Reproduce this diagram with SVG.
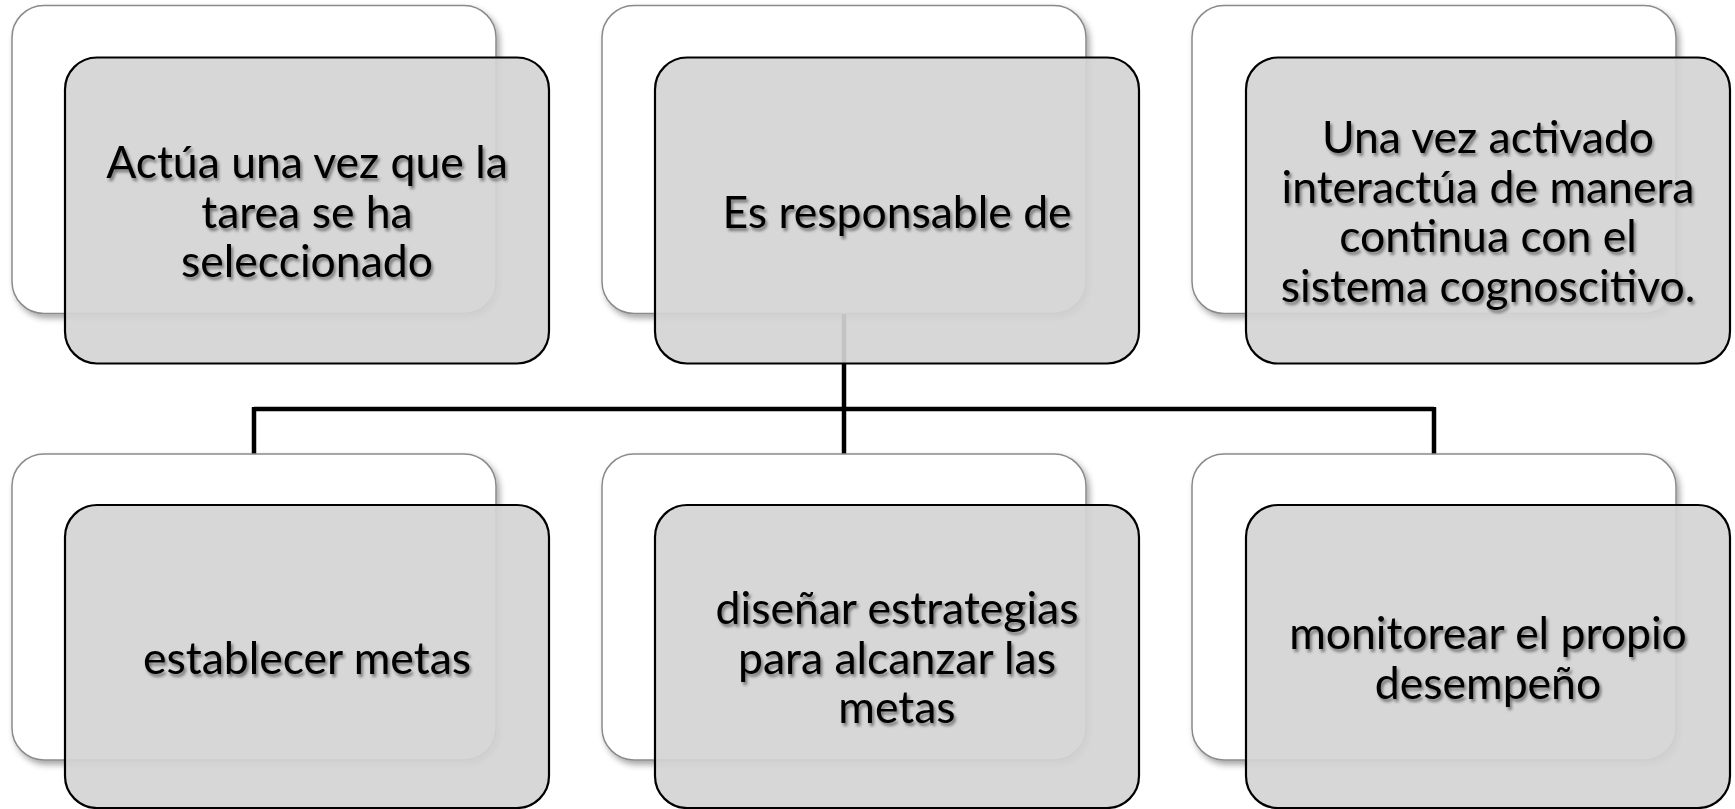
<svg xmlns="http://www.w3.org/2000/svg" width="1735" height="809" viewBox="0 0 1735 809">
<defs>
<filter id="boxShadow" x="-10%" y="-10%" width="125%" height="125%">
<feDropShadow dx="3" dy="4" stdDeviation="3" flood-color="#000" flood-opacity="0.35"/>
</filter>
<filter id="txtShadow" x="-10%" y="-30%" width="125%" height="170%">
<feDropShadow dx="2" dy="3" stdDeviation="1.6" flood-color="#000" flood-opacity="0.45"/>
</filter>
<style>
.back{fill:#ffffff;stroke:#8a8a8a;stroke-width:1.5;filter:url(#boxShadow)}
.front{fill:#d4d4d4;fill-opacity:0.92;stroke:#000;stroke-width:2.2}
.lbl{font-family:Lato,"Liberation Sans",sans-serif;font-size:44.5px;fill:#000;text-anchor:middle;filter:url(#txtShadow)}
.conn{fill:none;stroke:#000;stroke-width:4.5}
</style>
</defs>
<rect width="1735" height="809" fill="#fff"/>
<g id="connectors">
<path class="conn" d="M844 314 V409"/>
<path class="conn" d="M254 409 H1434"/>
<path class="conn" d="M254 407 V454 M844 409 V454 M1434 407 V454"/>
</g>
<g id="node-top-1">
<rect class="back" x="12" y="5.5" width="484" height="308" rx="32"/>
<rect class="front" x="65" y="57.5" width="484" height="306" rx="32"/>
<text class="lbl"><tspan x="307" y="178">Actúa una vez que la</tspan><tspan x="307" y="227.5">tarea se ha</tspan><tspan x="307" y="277">seleccionado</tspan></text>
</g>
<g id="node-top-2">
<rect class="back" x="602" y="5.5" width="484" height="308" rx="32"/>
<rect class="front" x="655" y="57.5" width="484" height="306" rx="32"/>
<text class="lbl" x="897" y="228">Es responsable de</text>
</g>
<g id="node-top-3">
<rect class="back" x="1192" y="5.5" width="484" height="308" rx="32"/>
<rect class="front" x="1246" y="57.5" width="484" height="306" rx="32"/>
<text class="lbl"><tspan x="1488" y="153">Una vez activado</tspan><tspan x="1488" y="202.5">interactúa de manera</tspan><tspan x="1488" y="252">continua con el</tspan><tspan x="1488" y="301.5">sistema cognoscitivo.</tspan></text>
</g>
<g id="node-bottom-1">
<rect class="back" x="12" y="454" width="484" height="306" rx="32"/>
<rect class="front" x="65" y="505" width="484" height="303" rx="32"/>
<text class="lbl" x="307" y="674">establecer metas</text>
</g>
<g id="node-bottom-2">
<rect class="back" x="602" y="454" width="484" height="306" rx="32"/>
<rect class="front" x="655" y="505" width="484" height="303" rx="32"/>
<text class="lbl"><tspan x="897" y="624">diseñar estrategias</tspan><tspan x="897" y="673.5">para alcanzar las</tspan><tspan x="897" y="723">metas</tspan></text>
</g>
<g id="node-bottom-3">
<rect class="back" x="1192" y="454" width="484" height="306" rx="32"/>
<rect class="front" x="1246" y="505" width="484" height="303" rx="32"/>
<text class="lbl"><tspan x="1488" y="649">monitorear el propio</tspan><tspan x="1488" y="698.5">desempeño</tspan></text>
</g>
</svg>
